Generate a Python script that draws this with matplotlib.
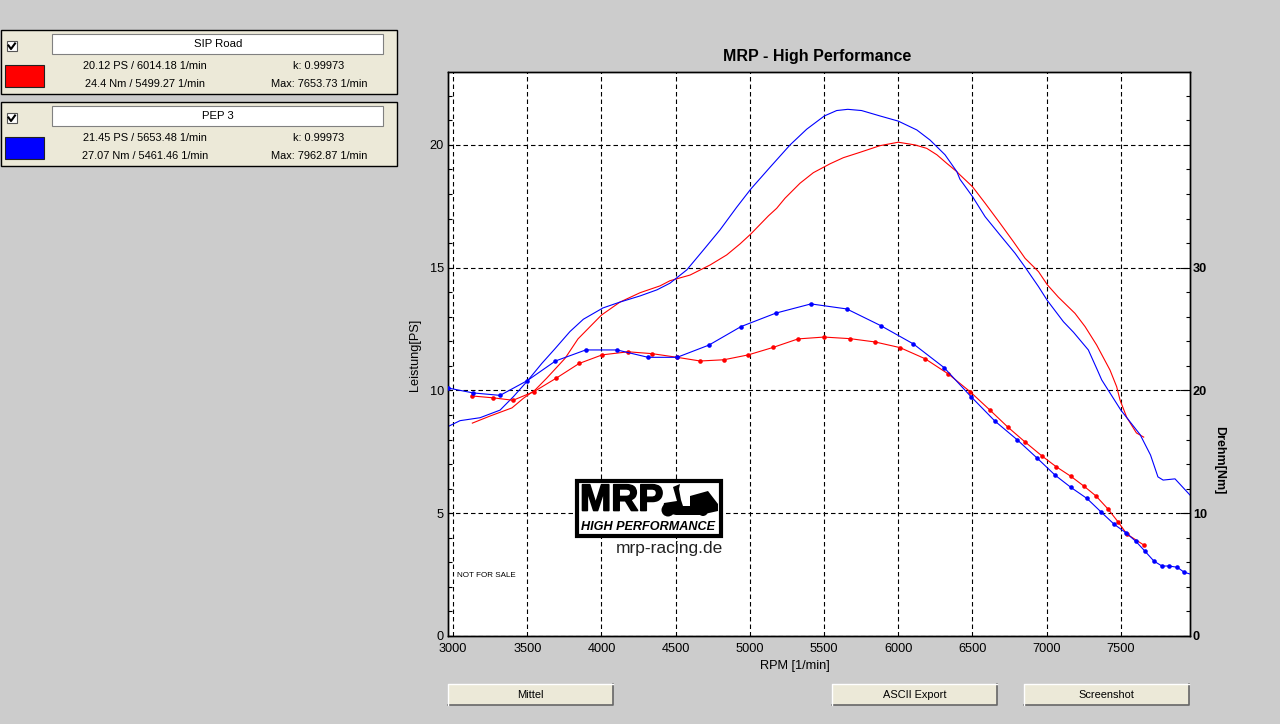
import matplotlib
matplotlib.use("Agg")
import matplotlib.pyplot as plt
import matplotlib.patheffects as pe
from matplotlib.patches import Rectangle, Circle, Polygon
from matplotlib.ticker import MultipleLocator
from matplotlib import font_manager as fm

plt.rcParams['font.family'] = ['Liberation Sans', 'DejaVu Sans']

# Power curves [PS]
red_power_rpm = [3130,3250,3397,3474,3553,3631,3755,3842,4000,4125,4260,4395,4462,4597,4732,4844,4934,5006,5125,5181,5237,5338,5428,5540,5630,5743,5877,6000,6113,6192,6260,6327,6395,6416,6500,6585,6686,6776,6855,6945,7005,7079,7191,7259,7337,7427,7472,7495,7540,7605,7654]
red_power = [8.67,8.96,9.29,9.68,10.02,10.5,11.31,12.1,13.07,13.6,13.98,14.26,14.47,14.7,15.11,15.52,15.97,16.37,17.11,17.42,17.83,18.44,18.87,19.23,19.48,19.7,19.97,20.11,20.0,19.86,19.6,19.25,18.91,18.78,18.3,17.63,16.81,16.06,15.38,14.84,14.3,13.8,13.14,12.6,11.85,10.83,10.15,9.6,8.9,8.27,8.1]
blue_power_rpm = [2966,3047,3182,3317,3407,3500,3598,3687,3788,3878,4010,4125,4260,4375,4462,4575,4687,4799,4911,5006,5136,5271,5383,5502,5585,5660,5753,5877,6000,6125,6214,6315,6395,6416,6500,6585,6686,6787,6855,6945,7005,7113,7181,7281,7342,7371,7500,7630,7700,7750,7785,7865,7966]
blue_power = [8.53,8.77,8.89,9.2,9.75,10.38,11.1,11.7,12.4,12.9,13.36,13.6,13.85,14.1,14.37,14.91,15.72,16.54,17.46,18.2,19.09,20.0,20.64,21.18,21.4,21.45,21.4,21.18,20.97,20.61,20.2,19.6,18.91,18.6,17.9,17.08,16.33,15.59,15.02,14.23,13.66,12.8,12.37,11.65,10.83,10.43,9.2,8.2,7.37,6.48,6.35,6.4,5.74]

# Torque curves [Nm]
red_torque_rpm = [3130,3270,3404,3545,3695,3850,4005,4180,4340,4510,4665,4825,4990,5155,5325,5500,5675,5844,6012,6180,6338,6484,6618,6740,6855,6970,7063,7164,7252,7333,7413,7481,7541,7656]
red_torque = [19.55,19.4,19.2,19.9,21.0,22.2,22.9,23.15,23.0,22.7,22.4,22.5,22.9,23.5,24.2,24.35,24.22,23.95,23.49,22.59,21.34,19.9,18.4,17.0,15.8,14.65,13.8,13.0,12.2,11.4,10.35,9.3,8.3,7.4]
blue_torque_rpm = [2966,3135,3317,3500,3690,3894,4105,4314,4510,4725,4940,5175,5412,5653,5882,6102,6309,6490,6652,6800,6935,7057,7164,7272,7367,7455,7535,7602,7663,7723,7777,7825,7880,7926]
blue_torque = [20.2,19.8,19.6,20.8,22.4,23.3,23.3,22.7,22.7,23.7,25.2,26.3,27.05,26.64,25.28,23.79,21.86,19.5,17.5,16.0,14.5,13.1,12.1,11.2,10.1,9.1,8.4,7.7,6.9,6.1,5.7,5.7,5.6,5.2]
blue_torque_end_rpm = [7926, 7966]
blue_torque_end = [5.2, 5.05]

x_ticks = [3000,3500,4000,4500,5000,5500,6000,6500,7000,7500]
left_ticks = [0,5,10,15,20]
right_ticks = [0,10,20,30]

legend_names = ["SIP Road", "PEP 3"]
legend_line1 = ["20.12 PS / 6014.18 1/min", "21.45 PS / 5653.48 1/min"]
legend_line2 = ["24.4 Nm / 5499.27 1/min", "27.07 Nm / 5461.46 1/min"]
legend_k = ["k: 0.99973", "k: 0.99973"]
legend_max = ["Max: 7653.73 1/min", "Max: 7962.87 1/min"]
legend_colors = ["#ff0000", "#0000ff"]
buttons = ["Mittel", "ASCII Export", "Screenshot"]

W, H = 1280, 724
BG = "#cccccc"
PANEL = "#ece9d8"
fig = plt.figure(figsize=(W/100, H/100), dpi=100, facecolor=BG)

L, R, T, B = 448, 1190, 72, 636
ax = fig.add_axes([L/W, 1-B/H, (R-L)/W, (B-T)/H], facecolor="white", zorder=2)
ax.set_xlim(2966, 7966)
ax.set_ylim(0, 22.97)
ax2 = ax.twinx()
ax2.set_ylim(0, 45.94)
ax2.set_zorder(3)

LW = 0.8
ax.plot(red_power_rpm, red_power, color="#ff0000", lw=LW, zorder=4)
ax.plot(blue_power_rpm, blue_power, color="#0000ff", lw=LW, zorder=4)
ax2.plot(red_torque_rpm, red_torque, color="#ff0000", lw=LW, marker="o", ms=3.3, mew=0, zorder=4)
ax2.plot(blue_torque_rpm, blue_torque, color="#0000ff", lw=LW, marker="o", ms=3.3, mew=0, zorder=4)
ax2.plot(blue_torque_end_rpm, blue_torque_end, color="#0000ff", lw=LW, zorder=4)

ax.set_xticks(x_ticks)
ax.set_yticks(left_ticks)
ax.yaxis.set_minor_locator(MultipleLocator(1))
ax2.set_yticks(right_ticks)
ax2.yaxis.set_minor_locator(MultipleLocator(2))
ax.grid(True, which="major", color="black", ls=(0, (4.05, 2.7)), lw=0.8, zorder=1)
ax.set_axisbelow(True)
ax.tick_params(axis="x", direction="in", length=0, labelsize=9.2, pad=5)
ax.tick_params(axis="y", which="major", direction="in", length=3, width=0.8, labelsize=9.2, pad=2.8)
ax.tick_params(axis="y", which="minor", direction="in", length=3, width=0.8)
ax2.tick_params(axis="y", which="major", direction="in", length=7, width=0.8, labelsize=9.2, pad=2)
ax2.tick_params(axis="y", which="minor", direction="in", length=3, width=0.8)
for lab in ax2.get_yticklabels():
    lab.set_fontweight("bold")
for a in (ax, ax2):
    for s in a.spines.values():
        s.set_linewidth(1.0)

# Full-figure overlay working in pixels, for the dialog furniture
ov = fig.add_axes([0, 0, 1, 1], zorder=5)
ov.set_xlim(0, W)
ov.set_ylim(H, 0)
ov.axis("off")
ov.patch.set_alpha(0)

ov.text(817.5, 56, "MRP - High Performance", ha="center", va="center", fontsize=11.5, fontweight="bold")
ov.text(795, 666, "RPM [1/min]", ha="center", va="center", fontsize=9.2)
ov.text(415, 355, "Leistung[PS]", ha="center", va="center", rotation=90, fontsize=9.2)
ov.text(1219, 460, "Drehm[Nm]", ha="center", va="center", rotation=270, fontsize=9.0, fontweight="bold")
ov.text(457, 575.5, "NOT FOR SALE", ha="left", va="center", fontsize=5.8)

def panel(i, top):
    ov.add_patch(Rectangle((1, top), 396, 64.5, fc=PANEL, ec="black", lw=1))
    ov.add_patch(Rectangle((52, top+4), 331, 20, fc="white", ec="#808080", lw=0.8))
    ov.text(218, top+14.5, legend_names[i], ha="center", va="center", fontsize=8.2)
    ov.add_patch(Rectangle((6.5, top+11.5), 10, 10, fc="white", ec="#555555", lw=0.8))
    ov.plot([8.5, 11, 15], [top+16, top+19.5, top+14], color="black", lw=1.5)
    ov.add_patch(Rectangle((5, top+35.5), 38.5, 21.5, fc=legend_colors[i], ec="#222222", lw=0.8))
    ov.text(145, top+36.5, legend_line1[i], ha="center", va="center", fontsize=7.9)
    ov.text(145, top+54.5, legend_line2[i], ha="center", va="center", fontsize=7.9)
    ov.text(319, top+36.5, legend_k[i], ha="center", va="center", fontsize=7.9)
    ov.text(319, top+54.5, legend_max[i], ha="center", va="center", fontsize=7.9)

panel(0, 29.5)
panel(1, 101.5)

for name, x0, x1 in zip(buttons, (448, 832, 1024), (613, 997, 1189)):
    ov.add_patch(Rectangle((x0, 684), x1-x0, 21, fc=PANEL, ec="none"))
    ov.plot([x0, x1, x1], [705, 705, 684], color="#666666", lw=1.2)
    ov.plot([x0, x0, x1], [705, 684, 684], color="white", lw=1.0)
    ov.text((x0+x1)/2, 695, name, ha="center", va="center", fontsize=7.9)

# Logo
ov.add_patch(Rectangle((576.5, 480.5), 144, 55, fc="white", ec="black", lw=3))
installed = {f.name for f in fm.fontManager.ttflist}
logo_family = "Liberation Sans Narrow" if "Liberation Sans Narrow" in installed else "Liberation Sans"
logo_size = 32 if logo_family == "Liberation Sans Narrow" else 27
ov.text(580, 500.5, "MRP", ha="left", va="center", fontsize=logo_size, fontweight="bold",
        family=logo_family, color="black",
        path_effects=[pe.withStroke(linewidth=1.2, foreground="black")])
ov.add_patch(Circle((668, 510), 6.5, fc="black", ec="none"))
ov.add_patch(Circle((703, 511), 5, fc="black", ec="none"))
ov.add_patch(Polygon([(673, 487), (680, 484), (679, 489), (681, 500), (683, 506), (690, 506),
                      (690, 496), (708, 491), (718, 504), (718, 511), (700, 515), (676, 515),
                      (662, 512), (664, 503), (677, 501)],
                     closed=True, fc="black", ec="none"))
ov.text(648, 527, "HIGH PERFORMANCE", ha="center", va="center", fontsize=9.1,
        fontweight="bold", fontstyle="italic")
ov.text(669, 548, "mrp-racing.de", ha="center", va="center", fontsize=12.5, color="#222222")

fig.savefig("out.png", dpi=100, facecolor=BG)
